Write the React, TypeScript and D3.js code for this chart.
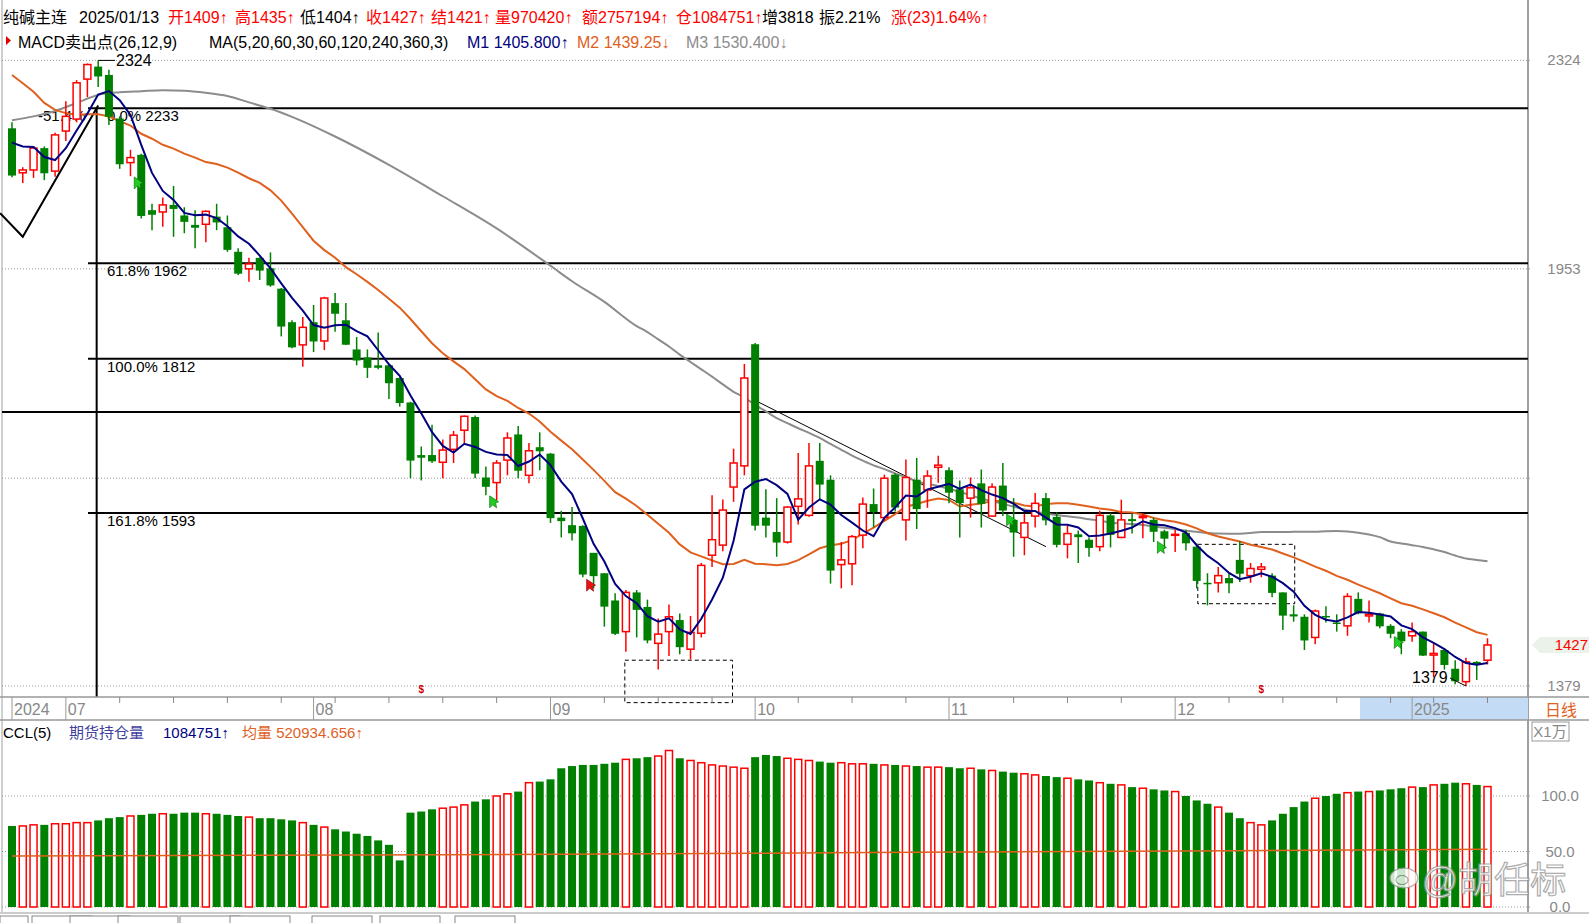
import React from 'react';
import * as d3 from 'd3';

const FONT = '"Liberation Sans", Arial, "Noto Sans CJK SC", sans-serif';

const opens = [2196,2116,2121,2160,2119,2191,2213,2288,2312,2296,2214,2134,2148,2051,2048,2060,2042,2026,2027,2040,2022,1981,1953,1971,1954,1921,1868,1833,1868,1839,1898,1871,1826,1814,1802,1802,1783,1747,1672,1672,1662,1680,1707,1726,1641,1634,1665,1701,1644,1683,1674,1587,1577,1576,1541,1515,1481,1443,1491,1473,1429,1443,1457,1422,1441,1538,1551,1628,1657,1834,1587,1568,1555,1602,1590,1664,1638,1526,1527,1564,1605,1587,1645,1584,1638,1624,1655,1651,1625,1613,1633,1589,1630,1584,1561,1589,1613,1588,1552,1565,1558,1549,1590,1561,1585,1587,1584,1569,1564,1567,1549,1503,1503,1509,1532,1512,1520,1512,1491,1464,1461,1436,1462,1454,1450,1483,1462,1465,1450,1443,1438,1443,1415,1421,1399,1384,1407,1409];
const highs = [2207,2126,2163,2163,2188,2246,2286,2318,2324,2306,2218,2157,2150,2062,2073,2093,2056,2051,2051,2062,2042,1987,1971,1972,1980,1922,1871,1876,1895,1908,1914,1898,1845,1826,1852,1803,1784,1748,1684,1715,1694,1706,1728,1728,1656,1665,1704,1713,1689,1704,1675,1596,1601,1577,1541,1515,1490,1494,1494,1482,1459,1476,1465,1462,1528,1617,1611,1681,1804,1836,1625,1613,1602,1675,1689,1689,1644,1555,1564,1614,1626,1645,1647,1666,1668,1651,1671,1655,1637,1641,1652,1633,1661,1613,1592,1620,1620,1594,1577,1570,1561,1596,1593,1611,1592,1592,1587,1571,1571,1571,1553,1515,1523,1515,1556,1528,1528,1515,1491,1475,1464,1470,1474,1464,1490,1491,1481,1466,1452,1446,1454,1443,1430,1423,1409,1412,1408,1435];
const lows = [2108,2098,2107,2103,2109,2173,2207,2254,2273,2202,2123,2110,2037,2017,2023,2006,2012,1987,1997,2017,1981,1943,1932,1935,1924,1846,1828,1800,1822,1825,1853,1833,1802,1783,1796,1752,1741,1640,1637,1661,1640,1661,1689,1640,1617,1610,1644,1640,1633,1651,1580,1561,1557,1510,1496,1449,1439,1419,1436,1429,1398,1414,1416,1410,1436,1523,1543,1608,1644,1570,1561,1536,1553,1578,1588,1610,1502,1496,1500,1547,1574,1583,1595,1557,1572,1600,1634,1606,1561,1587,1574,1588,1589,1536,1538,1574,1577,1548,1534,1528,1536,1543,1548,1560,1566,1560,1555,1546,1542,1544,1496,1475,1491,1490,1504,1503,1510,1485,1445,1455,1421,1428,1454,1443,1438,1464,1454,1447,1435,1416,1431,1414,1389,1398,1381,1379,1386,1404];
const closes = [2112,2121,2160,2116,2184,2218,2281,2316,2294,2218,2132,2143,2042,2044,2060,2054,2032,2022,2049,2031,1985,1946,1961,1951,1927,1862,1830,1860,1839,1906,1882,1834,1810,1799,1799,1776,1747,1665,1669,1664,1679,1700,1727,1647,1629,1661,1696,1651,1678,1678,1587,1583,1567,1514,1512,1474,1441,1491,1470,1433,1440,1461,1425,1442,1525,1558,1597,1661,1783,1577,1577,1555,1601,1612,1657,1632,1519,1532,1562,1605,1595,1640,1601,1641,1599,1643,1658,1621,1607,1627,1606,1628,1597,1568,1580,1606,1584,1552,1566,1562,1548,1590,1565,1584,1583,1589,1569,1560,1565,1554,1506,1502,1512,1503,1515,1521,1523,1491,1463,1462,1433,1468,1461,1453,1486,1466,1464,1450,1441,1432,1443,1415,1417,1404,1385,1407,1405,1427];

// 持仓量 (万)
const ccl = [73,73,74,74,75,75,76,76,78,80,81,82,83,84,84,84,85,85,84,84,83,82,81,80,80,79,78,76,74,72,70,68,66,64,60,56,42,85,86,88,89,90,92,95,97,100,102,104,112,113,115,125,127,128,128,129,130,133,134,135,136,141,134,132,130,128,127,126,125,135,137,136,134,133,132,131,130,130,129,129,129,128,128,127,127,126,126,126,125,125,124,123,122,121,120,119,118,117,116,115,114,112,111,110,108,107,106,105,104,100,96,93,90,85,80,76,74,78,84,90,95,98,100,102,103,104,104,105,106,107,108,108,110,111,112,111,110,108.5];
const avgVolPts: [number, number][] = [[0, 46], [40, 47], [80, 49], [137, 52.1]];

const ma5Early = [2170, 2163, 2162, 2144];
const ma20Early = [2296,2280,2264,2243,2230,2224,2221,2222,2222,2218,2209,2201,2186,2177,2166,2159,2150,2143,2135];
const ma60Early: [number, number][] = [[0,2211],[2,2218],[4,2228],[6,2243],[8,2258],[10,2263],[12,2265],[14,2267],[16,2266],[18,2262],[20,2256],[22,2244],[24,2232],[26,2217],[30,2181],[35,2130],[40,2075],[45,2020],[50,1958],[52,1933],[55,1900],[58,1862]];

const monthTicks = [{ i: 0, label: '2024' }, { i: 5, label: '07' }, { i: 28, label: '08' }, { i: 50, label: '09' }, { i: 69, label: '10' }, { i: 87, label: '11' }, { i: 108, label: '12' }, { i: 130, label: '2025' }];
const weekTicks = [10, 15, 20, 25, 30, 35, 40, 45, 55, 60, 65, 73, 78, 83, 93, 98, 103, 113, 118, 123, 128, 132, 137];

const priceGrid = [2324, 1953, 1640, 1379];
const priceGridLabels = ['2324', '1953', '', '1379'];
const volGrid = [100, 50, 0];
const volGridLabels = ['100.0', '50.0', '0.0'];

const fibLevels = [
  { v: 2233, label: '0.0% 2233', fromLeft: false },
  { v: 1962, label: '61.8% 1962', fromLeft: false },
  { v: 1812, label: '100.0% 1812', fromLeft: false },
  { v: 1733, label: '', fromLeft: true },
  { v: 1593, label: '161.8% 1593', fromLeft: false },
];
const zigzag: [number, number][] = [[-1.1, 2046], [1, 2006], [8, 2238]];
const trendLine: [number, number][] = [[69, 1750], [96, 1549]];
const boxes = [
  { i0: 56.9, i1: 66.9, p0: 1409, p1: 1360 },
  { i0: 110.1, i1: 119.1, p0: 1552, p1: 1477 },
];
const signals = [
  { i: 12, p: 2098, c: 'g' }, { i: 45, p: 1608, c: 'g' }, { i: 54, p: 1500, c: 'r' },
  { i: 93, p: 1584, c: 'g' }, { i: 107, p: 1548, c: 'g' }, { i: 129, p: 1430, c: 'g' },
];
const dollarMarks = [38, 116];

const header1 = [
  { x: 3, t: '纯碱主连', c: '#000' }, { x: 79, t: '2025/01/13', c: '#000' },
  { x: 168, t: '开1409↑', c: '#f00' }, { x: 235, t: '高1435↑', c: '#f00' },
  { x: 300, t: '低1404↑', c: '#000' }, { x: 366, t: '收1427↑', c: '#f00' },
  { x: 431, t: '结1421↑', c: '#f00' }, { x: 495, t: '量970420↑', c: '#f00' },
  { x: 582, t: '额2757194↑', c: '#f00' }, { x: 676, t: '仓1084751↑', c: '#f00' },
  { x: 762, t: '增3818', c: '#000' }, { x: 819, t: '振2.21%', c: '#000' },
  { x: 891, t: '涨(23)1.64%↑', c: '#f00' },
];
const header2 = [
  { x: 18, t: 'MACD卖出点(26,12,9)', c: '#000' },
  { x: 209, t: 'MA(5,20,60,30,60,120,240,360,3)', c: '#000' },
  { x: 467, t: 'M1 1405.800↑', c: '#000080' },
  { x: 577, t: 'M2 1439.25↓', c: '#e0601e' },
  { x: 686, t: 'M3 1530.400↓', c: '#8c8c8c' },
];

const RED = '#ff0000';
const GREEN = '#008000';

export default function App() {
  const n = closes.length;
  const x = d3.scaleLinear().domain([0, n - 1]).range([12, 1487.5]);
  const y = d3.scaleLog().domain([1379, 2324]).range([686, 60.4]);
  const vy = d3.scaleLinear().domain([0, 100]).range([907, 796]);

  const mean = (a: number[]) => d3.mean(a) as number;
  const ma5 = closes.map((_, i) => (i >= 4 ? mean(closes.slice(i - 4, i + 1)) : ma5Early[i]));
  const ma20 = closes.map((_, i) => (i >= 19 ? mean(closes.slice(i - 19, i + 1)) : ma20Early[i]));
  const ma60pts: [number, number][] = [...ma60Early];
  for (let i = 59; i < n; i++) ma60pts.push([i, mean(closes.slice(i - 59, i + 1))]);

  const line = d3.line<[number, number]>().x((d) => x(d[0])).y((d) => y(d[1]));
  const lineSmooth = d3.line<[number, number]>().x((d) => x(d[0])).y((d) => y(d[1])).curve(d3.curveMonotoneX);
  const volLine = d3.line<[number, number]>().x((d) => x(d[0])).y((d) => vy(d[1])).curve(d3.curveMonotoneX);

  const L = 2, R = 1528;
  const axisTop = 697, axisBot = 720;
  const bw = 7;

  return (
    <svg width={1589} height={923} style={{ position: 'fixed', left: 0, top: 0, background: '#fff' }} fontFamily={FONT}>
      <rect x={0} y={0} width={1589} height={923} fill="#fff" />
      {/* header */}
      {header1.map((h, k) => (
        <text key={'h1' + k} x={h.x} y={23} fontSize={16} fill={h.c}>{h.t}</text>
      ))}
      <path d="M6,36 L11,40.5 L6,45 Z" fill="#e00000" />
      {header2.map((h, k) => (
        <text key={'h2' + k} x={h.x} y={48} fontSize={16} fill={h.c}>{h.t}</text>
      ))}

      {/* frame */}
      <line x1={L} x2={L} y1={0} y2={912} stroke="#a0a0a0" />
      <line x1={R} x2={R} y1={0} y2={912} stroke="#808080" strokeWidth={1.5} />

      {/* price grid */}
      {priceGrid.map((p, k) => (
        <g key={'pg' + k}>
          <line x1={L} x2={R + 4} y1={y(p)} y2={y(p)} stroke="#999" strokeDasharray="1,2" />
          {priceGridLabels[k] && (
            <text x={1564} y={y(p) + 5} fontSize={15} fill="#888" textAnchor="middle">{priceGridLabels[k]}</text>
          )}
        </g>
      ))}

      {/* fib lines */}
      {fibLevels.map((f, k) => (
        <g key={'fib' + k}>
          <line x1={f.fromLeft ? L : 88} x2={R} y1={y(f.v)} y2={y(f.v)} stroke="#000" strokeWidth={2} />
          {f.label && <text x={107} y={y(f.v) + 13} fontSize={15} fill="#000">{f.label}</text>}
        </g>
      ))}
      <text x={38} y={y(2233) + 13} fontSize={15} fill="#000">-51.4%</text>
      <line x1={x(8) - 1.5} x2={x(8) - 1.5} y1={y(2233)} y2={axisTop} stroke="#000" strokeWidth={2} />
      <path d={line(zigzag) || ''} fill="none" stroke="#000" strokeWidth={2} />
      <path d={line(trendLine) || ''} fill="none" stroke="#000" strokeWidth={1} />
      {boxes.map((b, k) => (
        <rect key={'bx' + k} x={x(b.i0)} y={y(b.p0)} width={x(b.i1) - x(b.i0)} height={y(b.p1) - y(b.p0)} fill="none" stroke="#000" strokeDasharray="4,3" />
      ))}

      {/* MAs */}
      <path d={lineSmooth(ma60pts) || ''} fill="none" stroke="#8c8c8c" strokeWidth={2} />
      <path d={line(ma20.map((v, i) => [i, v] as [number, number])) || ''} fill="none" stroke="#e0601e" strokeWidth={2} />

      {/* candles */}
      {closes.map((c, i) => {
        const o = opens[i];
        const up = c >= o;
        const cx = x(i);
        const top = y(Math.max(o, c));
        const bot = y(Math.min(o, c));
        const hgt = Math.max(bot - top, 1);
        if (up) {
          return (
            <g key={'c' + i}>
              <line x1={cx} x2={cx} y1={y(highs[i])} y2={top} stroke={RED} strokeWidth={1.5} />
              <line x1={cx} x2={cx} y1={top + hgt} y2={y(lows[i])} stroke={RED} strokeWidth={1.5} />
              <rect x={cx - bw / 2} y={top} width={bw} height={hgt} fill="#fff" stroke={RED} strokeWidth={1.5} />
            </g>
          );
        }
        return (
          <g key={'c' + i}>
            <line x1={cx} x2={cx} y1={y(highs[i])} y2={y(lows[i])} stroke={GREEN} strokeWidth={1.5} />
            <rect x={cx - bw / 2 - 0.5} y={top} width={bw + 1} height={hgt + 0.5} fill={GREEN} />
          </g>
        );
      })}
      <path d={line(ma5.map((v, i) => [i, v] as [number, number])) || ''} fill="none" stroke="#000080" strokeWidth={2} />

      {/* signals */}
      {signals.map((s, k) => {
        const sx = x(s.i) - 7, sy = y(s.p) - 6;
        return (
          <path key={'s' + k} d={`M${sx},${sy} L${sx},${sy + 12} L${sx + 3},${sy + 9} L${sx + 7},${sy + 12} L${sx + 6},${sy + 7} L${sx + 9},${sy + 6} Z`}
            fill={s.c === 'g' ? '#22cc22' : '#ee1111'} stroke={s.c === 'g' ? '#006600' : '#880000'} strokeWidth={0.6} />
        );
      })}

      {/* high / low labels */}
      <line x1={x(8)} x2={115} y1={y(2324)} y2={y(2324)} stroke="#000" />
      <text x={116} y={y(2324) + 6} fontSize={16} fill="#000">2324</text>
      <line x1={1450} x2={x(135)} y1={y(1379) - 8} y2={y(1379)} stroke="#000" />
      <text x={1412} y={y(1379) - 3} fontSize={16} fill="#000">1379</text>

      {dollarMarks.map((i, k) => (
        <text key={'d' + k} x={x(i)} y={693} fontSize={10} fill="#d00000" textAnchor="middle" fontWeight="bold">$</text>
      ))}

      {/* current price tag */}
      <path d={`M1532,${y(1427)} L1540,${y(1427) - 8} L1589,${y(1427) - 8} L1589,${y(1427) + 8} L1540,${y(1427) + 8} Z`} fill="#eaf2ea" />
      <text x={1588} y={y(1427) + 5} fontSize={15} fill="#f00" textAnchor="end">1427</text>

      {/* x axis band */}
      <rect x={1360} y={axisTop} width={R - 1360} height={axisBot - axisTop} fill="#c4dbf5" />
      <line x1={0} x2={1589} y1={axisTop} y2={axisTop} stroke="#999" strokeWidth={1.5} />
      <line x1={0} x2={1589} y1={axisBot} y2={axisBot} stroke="#999" strokeWidth={1.5} />
      {weekTicks.map((i) => (
        <line key={'wt' + i} x1={x(i)} x2={x(i)} y1={axisTop} y2={axisTop + 6} stroke="#888" />
      ))}
      {monthTicks.map((m) => (
        <g key={'mt' + m.label}>
          <line x1={x(m.i)} x2={x(m.i)} y1={axisTop} y2={axisBot} stroke="#999" />
          <text x={x(m.i) + 2} y={715} fontSize={16} fill="#888">{m.label}</text>
        </g>
      ))}
      <text x={1561} y={716} fontSize={16} fill="#e0601e" textAnchor="middle">日线</text>

      {/* volume panel */}
      <text x={3} y={738} fontSize={15} fill="#000">CCL(5)</text>
      <text x={69} y={738} fontSize={15} fill="#4040a0">期货持仓量</text>
      <text x={163} y={738} fontSize={15} fill="#000080">1084751↑</text>
      <text x={242} y={738} fontSize={15} fill="#e0601e">均量 520934.656↑</text>
      <rect x={1532} y={722} width={37} height={19} fill="#fff" stroke="#999" />
      <text x={1550} y={737} fontSize={15} fill="#888" textAnchor="middle">X1万</text>
      {volGrid.map((v, k) => (
        <g key={'vg' + k}>
          <line x1={L} x2={R + 4} y1={vy(v)} y2={vy(v)} stroke="#999" strokeDasharray="1,2" />
          <text x={1560} y={vy(v) + 5} fontSize={15} fill="#888" textAnchor="middle">{volGridLabels[k]}</text>
        </g>
      ))}
      {ccl.map((v, i) => {
        const up = closes[i] >= opens[i];
        const cx = x(i);
        return up ? (
          <rect key={'v' + i} x={cx - 3.5} y={vy(v)} width={7} height={vy(0) - vy(v)} fill="#fff" stroke={RED} strokeWidth={1.5} />
        ) : (
          <rect key={'v' + i} x={cx - 4} y={vy(v)} width={8} height={vy(0) - vy(v)} fill={GREEN} />
        );
      })}
      <path d={volLine(avgVolPts) || ''} fill="none" stroke="#e0601e" strokeWidth={1.5} />

      {/* watermark */}
      <g opacity={0.8}>
        <ellipse cx={1404} cy={878} rx={14} ry={10} fill="#fff" stroke="#999" strokeWidth={1.2} />
        <ellipse cx={1402} cy={880} rx={6} ry={4.5} fill="#fff" stroke="#999" strokeWidth={1.2} />
        <text x={1494} y={893} fontSize={36} fill="#fff" stroke="#999" strokeWidth={1.2} textAnchor="middle">@胡任标</text>
      </g>

      {/* bottom strip */}
      <line x1={0} x2={1589} y1={913} y2={913} stroke="#999" />
      {[0, 32, 70, 118, 180, 230, 312, 380, 455].map((bx, k) => (
        <rect key={'tab' + k} x={bx} y={916} width={k === 0 ? 28 : 60} height={12} fill="#fff" stroke="#888" />
      ))}
    </svg>
  );
}
